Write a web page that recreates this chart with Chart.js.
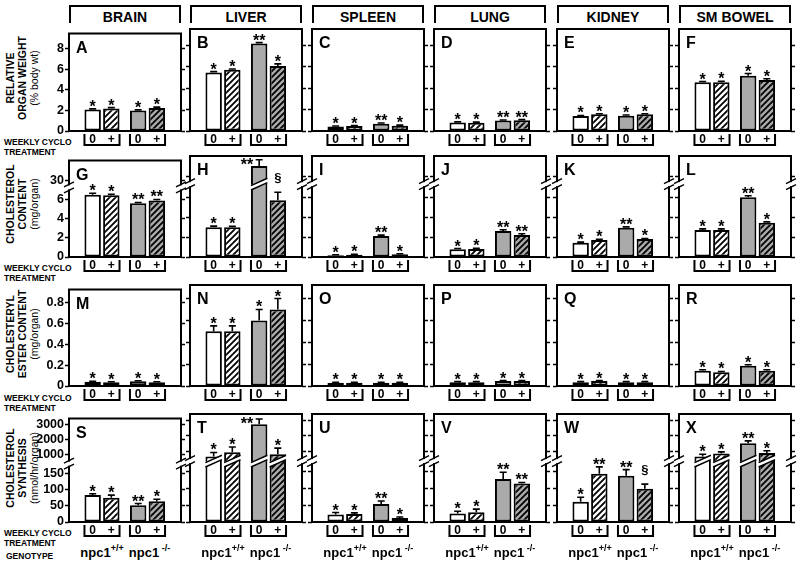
<!DOCTYPE html>
<html>
<head>
    <title>Organ cholesterol in npc1 mice</title>
    <style>
        body { margin: 0; background: #fff; }
        #fig { position: relative; width: 800px; height: 566px; overflow: hidden; font-family: Arial, "Liberation Sans", sans-serif; color: #000; }
        #fig canvas { position: absolute; }
        .hdr { position: absolute; top: 5px; height: 18px; box-sizing: border-box; border: 2px solid #000; border-bottom: none; text-align: center; font-weight: bold; font-size: 14px; line-height: 20px; }
        .rowlab { position: absolute; width: 140px; height: 36px; transform: rotate(-90deg); text-align: center; font-size: 10.5px; line-height: 12px; white-space: nowrap; }
        .rowlab b { display: block; }
        .cyc { position: absolute; left: 4px; font-weight: bold; font-size: 8.5px; line-height: 10px; white-space: nowrap; }
        .geno { position: absolute; transform: translateX(-50%); font-weight: bold; font-size: 13px; line-height: 16px; white-space: nowrap; }
        .geno span { font-size: 9px; position: relative; top: -6px; }
    </style>
</head>
<body>
<div id="fig"></div>

<script src="https://cdn.jsdelivr.net/npm/chart.js"></script>
<script>
// ---- data ----
const ORGANS = ['BRAIN', 'LIVER', 'SPLEEN', 'LUNG', 'KIDNEY', 'SM BOWEL'];
const LETTERS = 'ABCDEFGHIJKLMNOPQRSTUVWX';
const GENOTYPES = ['+/+', ' -/-'];   // npc1 superscripts
const TREATMENTS = ['0', '+'];       // weekly cyclo treatment
// every panel: [npc1+/+ 0, npc1+/+ +, npc1-/- 0, npc1-/- +]

// relative organ weight (% body wt)
const weightMean = [[2.1, 2.2, 2.0, 2.25], [5.45, 5.7, 8.15, 6.05], [0.42, 0.47, 0.68, 0.5],
                    [0.8, 0.78, 0.97, 1.0], [1.4, 1.55, 1.43, 1.56], [4.53, 4.55, 5.15, 4.75]];
const weightSem = [[0.06, 0.08, 0.06, 0.08], [0.08, 0.08, 0.08, 0.2], [0.04, 0.04, 0.06, 0.05],
                   [0.05, 0.05, 0.06, 0.06], [0.05, 0.05, 0.06, 0.05], [0.08, 0.08, 0.2, 0.12]];
const weightSig = [['*', '*', '*', '*'], ['*', '*', '**', '*'], ['*', '*', '**', '*'],
                   ['*', '*', '**', '**'], ['*', '*', '*', '*'], ['*', '*', '*', '*']];
const weightTicks = [0, 2, 4, 6, 8];

// cholesterol content (mg/organ)
const cholMean = [[6.55, 6.5, 5.65, 5.95], [3.0, 3.0, 35.2, 5.7], [0.17, 0.23, 2.1, 0.28],
                  [0.77, 0.8, 2.62, 2.22], [1.43, 1.72, 2.95, 1.8], [2.72, 2.72, 6.0, 3.45]];
const cholSem = [[0.15, 0.1, 0.08, 0.1], [0.1, 0.08, 3.0, 0.8], [0.05, 0.05, 0.1, 0.05],
                 [0.08, 0.08, 0.12, 0.12], [0.06, 0.07, 0.08, 0.06], [0.1, 0.1, 0.15, 0.08]];
const cholSig = [['*', '*', '**', '**'], ['*', '*', '**', '§'], ['*', '*', '**', '*'],
                 ['*', '*', '**', '**'], ['*', '*', '**', '*'], ['*', '*', '**', '*']];
const cholTicks = [0, 2, 4, 6, 30];

// cholesteryl ester content (mg/organ)
const esterMean = [[0.04, 0.035, 0.045, 0.035], [0.5, 0.5, 0.6, 0.7], [0.03, 0.03, 0.03, 0.03],
                   [0.035, 0.035, 0.045, 0.045], [0.035, 0.045, 0.035, 0.035], [0.14, 0.125, 0.185, 0.14]];
const esterSem = [[0.005, 0.005, 0.005, 0.005], [0.05, 0.05, 0.1, 0.1], [0.004, 0.004, 0.004, 0.004],
                  [0.005, 0.005, 0.005, 0.005], [0.005, 0.005, 0.005, 0.005], [0.008, 0.008, 0.01, 0.008]];
const esterSig = [['*', '*', '*', '*'], ['*', '*', '*', '*'], ['*', '*', '*', '*'],
                  ['*', '*', '*', '*'], ['*', '*', '*', '*'], ['*', '*', '*', '*']];
const esterTicks = [0, 0.2, 0.4, 0.6, 0.8];

// cholesterol synthesis (nmol/hr/organ)
const synthMean = [[83, 75, 52, 64], [680, 960, 2750, 830], [22, 24, 53, 12],
                   [25, 29, 127, 114], [60, 143, 137, 98], [680, 870, 1530, 900]];
const synthSem = [[4, 8, 5, 6], [260, 330, 330, 390], [6, 3, 9, 3],
                  [7, 9, 20, 3], [13, 20, 18, 14], [150, 110, 150, 150]];
const synthSig = [['*', '*', '**', '*'], ['*', '*', '**', '*'], ['*', '*', '**', '*'],
                  ['*', '*', '**', '**'], ['*', '**', '**', '§'], ['*', '*', '**', '*']];
const synthTicks = [0, 50, 100, 150, 1000, 2000, 3000];

const ROW_TITLES = [['RELATIVE', 'ORGAN WEIGHT', '(% body wt)'],
                    ['CHOLESTEROL', 'CONTENT', '(mg/organ)'],
                    ['CHOLESTERYL', 'ESTER CONTENT', '(mg/organ)'],
                    ['CHOLESTEROL', 'SYNTHESIS', '(nmol/hr/organ)']];

// ---- layout ----
const COL_X = [69, 190, 312, 434, 557, 679];
const BOX_W = 112;
const ROW_Y = [29, 156, 285, 414];
const ROW_H = [102, 101, 101, 108];
const AXL = 40, AXR = 8, PADT = 4, PADB = 18;
const GENO_X = [1, 2];
const X_MIN = 0.275, X_MAX = 2.736;
const GRAY = '#aaaaaa';
const FONT = 'Arial, "Liberation Sans", sans-serif';

const rows = [
    { mean: weightMean, sem: weightSem, sig: weightSig, ticks: weightTicks, max: 9.5 },
    { mean: cholMean, sem: cholSem, sig: cholSig, ticks: cholTicks, max: 40,
      brk: { lo: 7, hi: 28, f1: 0.69, f2: 0.753 } },
    { mean: esterMean, sem: esterSem, sig: esterSig, ticks: esterTicks, max: 0.924 },
    { mean: synthMean, sem: synthSem, sig: synthSig, ticks: synthTicks, max: 3400,
      brk: { lo: 175, hi: 500, f1: 0.548, f2: 0.58 } }
];

// linear axis with a gap between lo and hi
function brokenDecimal(v, min, max, b) {
    if (v <= b.lo) return (v - min) / (b.lo - min) * b.f1;
    if (v >= b.hi) return b.f2 + (v - b.hi) / (max - b.hi) * (1 - b.f2);
    return b.f1 + (v - b.lo) / (b.hi - b.lo) * (b.f2 - b.f1);
}
class BrokenScale extends Chart.LinearScale {
    getPixelForValue(value) {
        return this.getPixelForDecimal(brokenDecimal(value, this.min, this.max, this.options.brk));
    }
    getValueForPixel(pixel) {
        const b = this.options.brk, d = this.getDecimalForPixel(pixel);
        if (d <= b.f1) return this.min + d / b.f1 * (b.lo - this.min);
        if (d >= b.f2) return b.hi + (d - b.f2) / (1 - b.f2) * (this.max - b.hi);
        return b.lo + (d - b.f1) / (b.f2 - b.f1) * (b.hi - b.lo);
    }
}
BrokenScale.id = 'broken';
BrokenScale.defaults = {};
Chart.register(BrokenScale);

function hatch(bg) {
    const c = document.createElement('canvas');
    c.width = c.height = 6;
    const g = c.getContext('2d');
    g.fillStyle = bg;
    g.fillRect(0, 0, 6, 6);
    g.strokeStyle = '#000';
    g.lineWidth = 1.8;
    g.beginPath();
    g.moveTo(-1, 7); g.lineTo(7, -1);
    g.moveTo(-1, 1); g.lineTo(1, -1);
    g.moveTo(5, 7); g.lineTo(7, 5);
    g.stroke();
    return g.createPattern(c, 'repeat');
}
const hatchWhite = hatch('#ffffff');
const hatchGray = hatch(GRAY);

function barSlash(ctx, xl, xr, yc) {
    const rise = (xr - xl) * 0.45, h = 2.2;
    ctx.fillStyle = '#fff';
    ctx.beginPath();
    ctx.moveTo(xl - 1.5, yc + rise / 2 - h);
    ctx.lineTo(xr + 1.5, yc - rise / 2 - h);
    ctx.lineTo(xr + 1.5, yc - rise / 2 + h);
    ctx.lineTo(xl - 1.5, yc + rise / 2 + h);
    ctx.closePath();
    ctx.fill();
    ctx.strokeStyle = '#000';
    ctx.lineWidth = 1.5;
    ctx.beginPath();
    ctx.moveTo(xl, yc + rise / 2 - h); ctx.lineTo(xr, yc - rise / 2 - h);
    ctx.moveTo(xl, yc + rise / 2 + h); ctx.lineTo(xr, yc - rise / 2 + h);
    ctx.stroke();
}

function axisBreak(ctx, xa, yc) {
    ctx.fillStyle = '#fff';
    ctx.fillRect(xa - 2, yc - 2, 4, 4);
    ctx.strokeStyle = '#000';
    ctx.lineWidth = 1.5;
    ctx.beginPath();
    ctx.moveTo(xa - 5, yc - 0.5); ctx.lineTo(xa + 5, yc - 5.5);
    ctx.moveTo(xa - 5, yc + 5.5); ctx.lineTo(xa + 5, yc + 0.5);
    ctx.stroke();
}

function deco(ri, ci) {
    const r = rows[ri];
    const orderedBars = chart => {
        const out = [];
        chart.data.datasets.forEach((ds, di) => {
            chart.getDatasetMeta(di).data.forEach((el, gi) => { out[gi * 2 + di] = el; });
        });
        return out;
    };
    const breakY = y => y.getPixelForDecimal((r.brk.f1 + r.brk.f2) / 2);
    return {
        id: 'deco',
        afterDatasetsDraw(chart) {
            const { ctx, chartArea: a } = chart, y = chart.scales.y;
            const mean = r.mean[ci], sem = r.sem[ci], sig = r.sig[ci];
            ctx.save();
            orderedBars(chart).forEach((el, k) => {
                const x = el.x, hw = el.width / 2;
                if (r.brk && mean[k] > r.brk.lo) barSlash(ctx, x - hw, x + hw, breakY(y));
                const yTop = y.getPixelForValue(mean[k] + sem[k]);
                ctx.strokeStyle = '#000';
                ctx.lineWidth = 1.6;
                ctx.beginPath();
                ctx.moveTo(x, el.y); ctx.lineTo(x, yTop);
                ctx.moveTo(x - 3.5, yTop); ctx.lineTo(x + 3.5, yTop);
                ctx.stroke();
                ctx.fillStyle = '#000';
                ctx.textBaseline = 'alphabetic';
                if (sig[k] === '§') {
                    ctx.font = 'bold 13px ' + FONT;
                    ctx.textAlign = 'center';
                    ctx.fillText(sig[k], x, yTop - 10.5);
                } else {
                    ctx.font = 'bold 16px ' + FONT;
                    if (yTop - 10 < a.top + 2) {
                        ctx.textAlign = 'right';
                        ctx.fillText(sig[k], x - 6, yTop + 10);
                    } else {
                        ctx.textAlign = 'center';
                        ctx.fillText(sig[k], x, yTop + 3);
                    }
                }
            });
            ctx.restore();
        },
        afterDraw(chart) {
            const { ctx, chartArea: a } = chart;
            ctx.save();
            ctx.strokeStyle = '#000';
            ctx.lineWidth = 2;
            ctx.strokeRect(a.left, a.top, a.right - a.left, a.bottom - a.top);
            if (r.brk) {
                const yb = breakY(chart.scales.y);
                axisBreak(ctx, a.left, yb);
                axisBreak(ctx, a.right, yb);
            }
            ctx.fillStyle = '#000';
            ctx.font = 'bold 16px ' + FONT;
            ctx.textAlign = 'left';
            ctx.textBaseline = 'alphabetic';
            ctx.fillText(LETTERS[ri * 6 + ci], a.left + 7, a.top + 19);
            // treatment brackets
            const bars = orderedBars(chart);
            ctx.font = 'bold 12px ' + FONT;
            ctx.textAlign = 'center';
            ctx.textBaseline = 'middle';
            GENO_X.forEach((gx, gi) => {
                const e0 = bars[gi * 2], e1 = bars[gi * 2 + 1];
                const xl = e0.x - e0.width / 2, xr = e1.x + e1.width / 2;
                ctx.lineWidth = 2;
                ctx.beginPath();
                ctx.moveTo(xl, a.bottom + 3); ctx.lineTo(xl, a.bottom + 14);
                ctx.lineTo(xr, a.bottom + 14); ctx.lineTo(xr, a.bottom + 3);
                ctx.stroke();
                ctx.fillText(TREATMENTS[0], e0.x, a.bottom + 9);
                ctx.fillText(TREATMENTS[1], e1.x, a.bottom + 9);
            });
            ctx.restore();
        }
    };
}

const fig = document.getElementById('fig');

// column headers
ORGANS.forEach((o, ci) => {
    const d = document.createElement('div');
    d.className = 'hdr';
    d.style.left = COL_X[ci] + 'px';
    d.style.width = BOX_W + 'px';
    d.textContent = o;
    fig.appendChild(d);
});

// row titles and treatment labels
const ROW_LAB_Y = [78, 204, 334, 468];
const CYC_Y = [137, 263, 393, 528];
ROW_TITLES.forEach((t, ri) => {
    const d = document.createElement('div');
    d.className = 'rowlab';
    d.style.left = (22 - 70) + 'px';
    d.style.top = (ROW_LAB_Y[ri] - 18) + 'px';
    d.innerHTML = '<b>' + t[0] + '</b><b>' + t[1] + '</b><div>' + t[2] + '</div>';
    fig.appendChild(d);
    const c = document.createElement('div');
    c.className = 'cyc';
    c.style.top = CYC_Y[ri] + 'px';
    c.innerHTML = 'WEEKLY CYCLO<br>TREATMENT';
    fig.appendChild(c);
});
const gt = document.createElement('div');
gt.className = 'cyc';
gt.style.top = '551px';
gt.style.left = '6px';
gt.textContent = 'GENOTYPE';
fig.appendChild(gt);

rows.forEach((r, ri) => ORGANS.forEach((organ, ci) => {
    const cv = document.createElement('canvas');
    cv.width = AXL + BOX_W + AXR;
    cv.height = PADT + ROW_H[ri] + PADB;
    cv.style.left = (COL_X[ci] - AXL) + 'px';
    cv.style.top = (ROW_Y[ri] - PADT) + 'px';
    fig.appendChild(cv);
    const m = r.mean[ci];
    const yAxis = pos => ({
        type: r.brk ? 'broken' : 'linear',
        position: pos,
        min: 0,
        max: r.max,
        brk: r.brk,
        afterBuildTicks: s => { s.ticks = r.ticks.map(v => ({ value: v })); },
        afterFit: s => { s.width = pos === 'left' ? AXL : AXR; },
        border: { display: false },
        grid: { display: true, drawOnChartArea: false, drawTicks: true, tickLength: 4, tickWidth: 1.5, tickColor: '#000' },
        ticks: {
            display: pos === 'left' && ci === 0,
            autoSkip: false,
            padding: 1,
            color: '#000',
            font: { family: FONT, size: 12.5, weight: 'bold' },
            callback: v => String(v)
        }
    });
    const chart = new Chart(cv, {
        type: 'bar',
        data: {
            datasets: TREATMENTS.map((t, ti) => ({
                label: t,
                data: GENO_X.map((gx, gi) => ({ x: gx, y: m[gi * 2 + ti] })),
                backgroundColor: ti === 0 ? ['#ffffff', GRAY] : [hatchWhite, hatchGray],
                borderColor: '#000',
                borderWidth: 2,
                borderSkipped: false,
                categoryPercentage: 0.82,
                barPercentage: 0.88
            }))
        },
        options: {
            responsive: false,
            animation: false,
            events: [],
            devicePixelRatio: 1,
            layout: { padding: { top: PADT, bottom: PADB, left: 0, right: 0 } },
            plugins: { legend: { display: false }, tooltip: { enabled: false } },
            scales: {
                x: {
                    type: 'linear', display: false, offset: false, min: X_MIN, max: X_MAX,
                    afterBuildTicks: s => { s.ticks = GENO_X.map(v => ({ value: v })); }
                },
                y: yAxis('left'),
                y2: yAxis('right')
            }
        },
        plugins: [deco(ri, ci)]
    });
    if (ri === 3) {
        GENOTYPES.forEach((g, gi) => {
            const d = document.createElement('div');
            d.className = 'geno';
            d.style.left = (chart.scales.x.getPixelForValue(GENO_X[gi]) + COL_X[ci] - AXL + (gi === 0 ? 0 : 2)) + 'px';
            d.style.top = '545px';
            d.innerHTML = 'npc1<span>' + g + '</span>';
            fig.appendChild(d);
        });
    }
}));
</script>
</body>
</html>
